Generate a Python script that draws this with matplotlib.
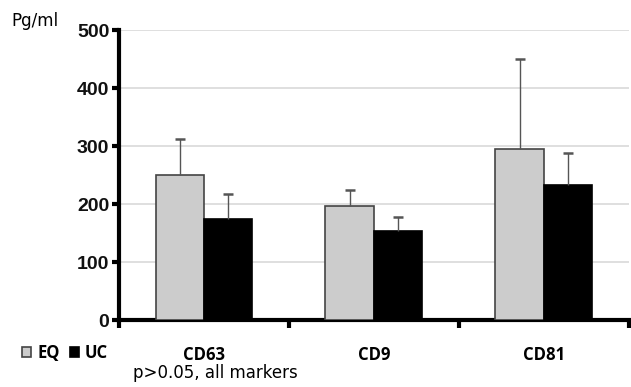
import numpy as np
import matplotlib.pyplot as plt

markers = ['CD63', 'CD9', 'CD81']
eq_vals = [250, 197, 295]
eq_err = [62, 28, 156]
uc_vals = [175, 153, 233]
uc_err = [43, 24, 55]

fig = plt.figure(figsize=(6.31, 3.87), dpi=100)
ax = fig.add_axes([0.1886, 0.173, 0.808, 0.749])

x = np.arange(len(markers))
w = 0.285
ekw = dict(ecolor='#555555', elinewidth=1, capsize=3.5, capthick=1.8)
b1 = ax.bar(x - w/2, eq_vals, w, color='#cccccc', edgecolor='#444444', linewidth=1.2,
            yerr=[np.zeros(3), eq_err], error_kw=ekw, label='EQ', zorder=3)
b2 = ax.bar(x + w/2, uc_vals, w, color='black', edgecolor='black', linewidth=1.2,
            yerr=[np.zeros(3), uc_err], error_kw=ekw, label='UC', zorder=3)
# only the upper whisker has a cap
for b in (b1, b2):
    b.errorbar.lines[1][0].set_visible(False)

ax.set_xlim(-0.5, 2.5)
ax.set_ylim(0, 500)
ax.set_yticks([0, 100, 200, 300, 400, 500])
ax.set_yticklabels(['0', '100', '200', '300', '400', '500'],
                   fontsize=14, fontweight='bold', family='Liberation Sans', color='#111111')
ax.yaxis.grid(True, color='#d9d9d9', linewidth=1.2, zorder=0)
ax.set_axisbelow(True)

ax.set_xticks([-0.5, 0.5, 1.5, 2.5])
ax.set_xticklabels([])
ax.tick_params(axis='x', direction='out', length=6, width=3)
ax.tick_params(axis='y', direction='out', length=5, width=3, pad=2)
for i, m in enumerate(markers):
    ax.text(i, -0.12, m, transform=ax.get_xaxis_transform(), ha='center', va='center',
            fontsize=12, fontweight='bold', family='Open Sans')

for s in ['top', 'right']:
    ax.spines[s].set_visible(False)
for s in ['left', 'bottom']:
    ax.spines[s].set_linewidth(3)

fig.text(0.018, 0.946, 'Pg/ml', fontsize=12, family='DejaVu Sans', va='center')
fig.text(0.211, 0.036, 'p>0.05, all markers', fontsize=12, family='DejaVu Sans', va='center')

fig.legend(handles=[b1, b2], loc='center left', bbox_to_anchor=(0.035, 0.087), ncol=2,
           frameon=False, handlelength=0.55, handleheight=0.55, handletextpad=0.35,
           columnspacing=0.6, borderpad=0, borderaxespad=0,
           prop={'family': 'Open Sans', 'weight': 'bold', 'size': 12})

plt.savefig('out.png', dpi=100)
